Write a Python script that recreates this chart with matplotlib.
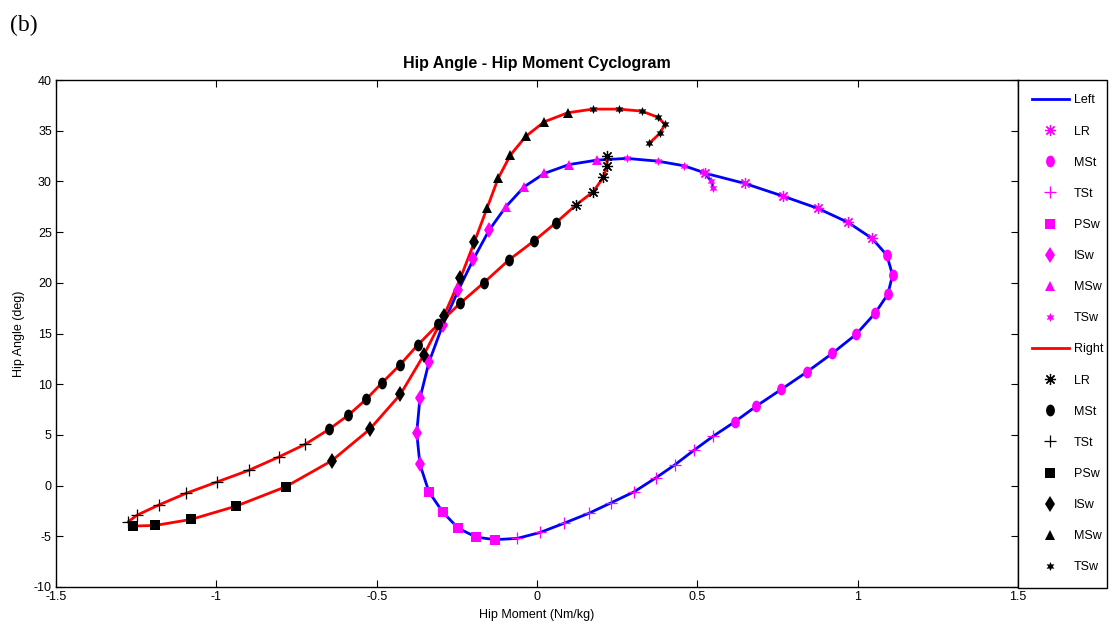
import numpy as np
import matplotlib
matplotlib.use("Agg")
import matplotlib.pyplot as plt
from matplotlib.path import Path
from matplotlib.transforms import Affine2D

plt.rcParams['font.family'] = ['Liberation Sans Narrow', 'Liberation Sans', 'DejaVu Sans']
plt.rcParams['axes.unicode_minus'] = False

phases = ['LR', 'MSt', 'TSt', 'PSw', 'ISw', 'MSw', 'TSw']

# left limb: hip moment (Nm/kg) and hip angle (deg), points grouped by phase
left_moment = [0.523, 0.648, 0.767, 0.876, 0.970, 1.045,
               1.091, 1.109, 1.094, 1.054, 0.995, 0.921, 0.841, 0.762, 0.684, 0.617,
               0.550, 0.490, 0.430, 0.371, 0.303, 0.231, 0.161, 0.083, 0.010, -0.062,
               -0.131, -0.190, -0.246, -0.294, -0.337,
               -0.365, -0.375, -0.365, -0.337, -0.294, -0.245, -0.198, -0.149,
               -0.097, -0.040, 0.023, 0.100, 0.187,
               0.280, 0.376, 0.459, 0.519, 0.544, 0.550]
left_angle = [30.82, 29.80, 28.55, 27.34, 25.96, 24.38,
              22.73, 20.76, 18.86, 16.98, 14.91, 13.04, 11.19, 9.49, 7.84, 6.29,
              4.88, 3.50, 2.05, 0.77, -0.61, -1.70, -2.74, -3.73, -4.62, -5.21,
              -5.33, -5.08, -4.19, -2.61, -0.61,
              2.09, 5.21, 8.60, 12.15, 15.83, 19.28, 22.34, 25.20,
              27.50, 29.47, 30.79, 31.66, 32.10,
              32.27, 32.00, 31.54, 30.89, 30.06, 29.31]
left_phase_len = [6, 10, 10, 5, 8, 5, 6]

# right limb
right_moment = [0.218, 0.218, 0.207, 0.175, 0.121,
                0.059, -0.010, -0.088, -0.166, -0.240, -0.308, -0.372, -0.428, -0.483, -0.533, -0.588, -0.649,
                -0.722, -0.804, -0.897, -0.997, -1.095, -1.180, -1.247, -1.275,
                -1.260, -1.191, -1.078, -0.938, -0.784,
                -0.640, -0.522, -0.426, -0.353, -0.290, -0.239, -0.195,
                -0.156, -0.121, -0.083, -0.034, 0.023, 0.096,
                0.174, 0.256, 0.327, 0.378, 0.399, 0.383, 0.350]
right_angle = [32.52, 31.51, 30.39, 28.97, 27.66,
               25.92, 24.11, 22.24, 20.00, 17.97, 15.91, 13.86, 11.88, 10.14, 8.50, 6.95, 5.54,
               4.09, 2.84, 1.53, 0.37, -0.77, -1.92, -2.91, -3.57,
               -3.99, -3.93, -3.33, -2.02, -0.12,
               2.45, 5.54, 8.99, 12.87, 16.77, 20.43, 24.04,
               27.34, 30.30, 32.59, 34.47, 35.88, 36.77,
               37.13, 37.13, 36.93, 36.31, 35.62, 34.73, 33.75]
right_phase_len = [5, 12, 8, 5, 7, 6, 7]

x_ticks = [-1.5, -1, -0.5, 0, 0.5, 1, 1.5]
x_tick_labels = ['-1.5', '-1', '-0.5', '0', '0.5', '1', '1.5']
y_ticks = [-10, -5, 0, 5, 10, 15, 20, 25, 30, 35, 40]

# MATLAB-like marker shapes
ellipse = Path(Affine2D().scale(0.75, 1.0).transform(Path.unit_circle().vertices),
               Path.unit_circle().codes)
marker_style = {
    'LR':  dict(marker=(8, 2, 0), ms=8, mew=0.9),
    'MSt': dict(marker=ellipse, ms=8.5, mew=0),
    'TSt': dict(marker='+', ms=8, mew=0.9),
    'PSw': dict(marker='s', ms=6.5, mew=0),
    'ISw': dict(marker='d', ms=8, mew=0),
    'MSw': dict(marker='^', ms=7.5, mew=0),
    'TSw': dict(marker=(6, 1, 0), ms=6.5, mew=0),
}

fig = plt.figure(figsize=(11.13, 6.37), dpi=100)
ax = fig.add_axes([0.0503, 0.0785, 0.8643, 0.7959])

handles = []
labels = []


def draw_side(xs, ys, sizes, line_color, mark_color, name):
    xs = np.asarray(xs)
    ys = np.asarray(ys)
    ln, = ax.plot(xs, ys, color=line_color, lw=2, zorder=2)
    handles.append(ln)
    labels.append(name)
    edges = np.concatenate([[0], np.cumsum(sizes)])
    for i, ph in enumerate(phases):
        st = marker_style[ph]
        sl = slice(edges[i], edges[i + 1])
        h, = ax.plot(xs[sl], ys[sl], ls='none', marker=st['marker'], ms=st['ms'],
                     mew=st['mew'], mfc=mark_color, mec=mark_color, zorder=3)
        handles.append(h)
        labels.append(ph)


draw_side(left_moment, left_angle, left_phase_len, '#0000ff', '#ff00ff', 'Left')
draw_side(right_moment, right_angle, right_phase_len, '#ff0000', 'black', 'Right')

ax.set_xlim(-1.5, 1.5)
ax.set_ylim(-10, 40)
ax.set_xticks(x_ticks)
ax.set_xticklabels(x_tick_labels)
ax.set_yticks(y_ticks)
ax.tick_params(direction='in', top=True, right=True, length=5, width=0.8,
               labelsize=9, pad=3)
for sp in ax.spines.values():
    sp.set_linewidth(1.0)

ax.set_xlabel('Hip Moment (Nm/kg)', fontsize=9, labelpad=4)
ax.set_ylabel('Hip Angle (deg)', fontsize=9, labelpad=6)
ax.set_title('Hip Angle - Hip Moment Cyclogram', fontsize=11.5, fontweight='bold', pad=9)

leg = fig.legend(handles, labels, loc='upper left',
                 bbox_to_anchor=(0.9146, 0.0785, 0.0800, 0.7959), mode='expand',
                 borderaxespad=0, fontsize=9, handlelength=2.9, handletextpad=0.4,
                 labelspacing=1.53, borderpad=1.15, fancybox=False, framealpha=1,
                 edgecolor='black', numpoints=1)
leg.get_frame().set_linewidth(1.0)

fig.text(0.009, 0.96, '(b)', fontsize=17, family=['Liberation Serif', 'DejaVu Serif'],
         va='center', ha='left')

fig.savefig('out.png', dpi=100)
